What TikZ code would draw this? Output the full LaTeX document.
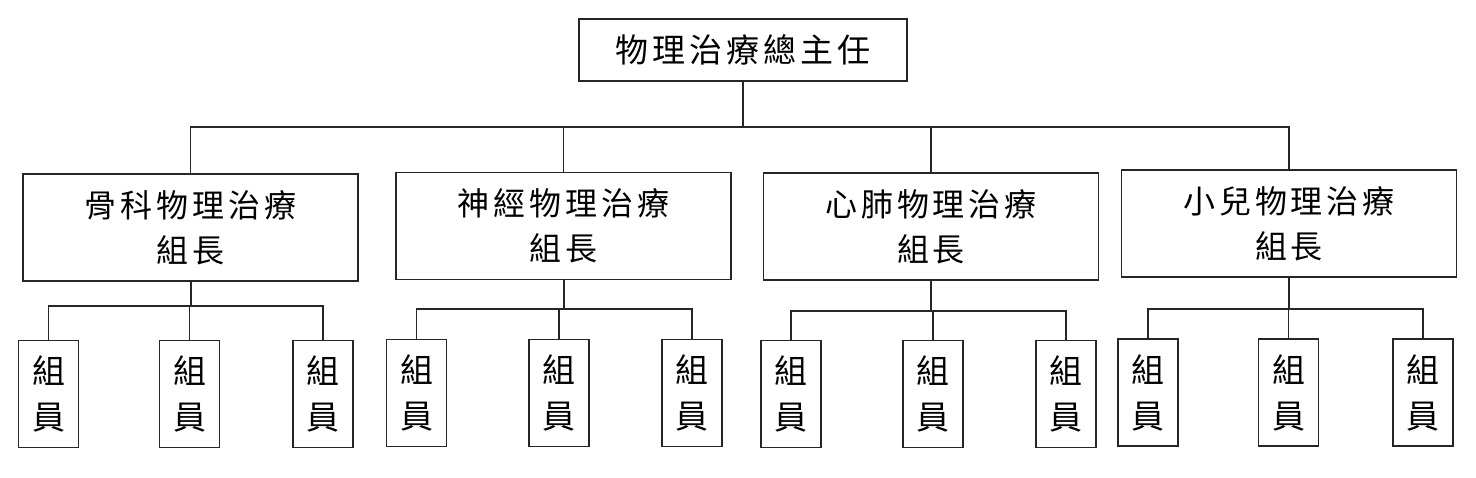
\documentclass[tikz,border=0pt]{standalone}
\usepackage{fontspec}
\usepackage{tikz}
\usetikzlibrary{positioning,calc}
\newfontfamily\cjk[LetterSpace=12]{Noto Sans CJK TC}
\tikzset{
  pline/.style={black!85, line width=1.5pt},
  pbox/.style={draw=black!85, fill=white, line width=1.5pt, inner sep=0pt,
               align=center, font=\cjk\fontsize{32}{45}\selectfont},
  pchief/.style={pbox, minimum width=328pt, minimum height=62pt,
                 font=\cjk\fontsize{33}{45}\selectfont},
  plead/.style={pbox, minimum width=335pt, minimum height=107pt},
  pmem/.style={pbox, minimum width=60pt, minimum height=107pt,
               font=\cjk\fontsize{33}{46}\selectfont},
}
\begin{document}
\begin{tikzpicture}[x=1pt,y=-1pt]
  \useasboundingbox (0,0) rectangle (1476,478);

  % 總主任
  \node[pchief] (chief) at (743,50) {物理治療總主任};
  \coordinate (bus) at (743,127);

  % 各組組長
  \foreach \n/\x/\y/\t in {1/190.5/227.5/骨科, 2/563.5/226/神經,
                           3/931/226.5/心肺, 4/1289/223.5/小兒}
    \node[plead] (g\n) at (\x,\y) {\t 物理治療\\組長};

  \draw[pline, line width=2pt] (chief.south) -- (bus);
  \draw[pline] (g1.north) |- (bus) -| (g4.north);
  \draw[pline] (g2.north) -- (g2.north |- bus);
  \draw[pline] (g3.north) -- (g3.north |- bus);

  % 組員
  \foreach \g/\xa/\xb/\xc/\y/\s in {1/48.5/189.5/323/394/306, 2/416.5/559/692/393/309,
                                    3/791/933/1066/394/311, 4/1148/1288.5/1423/392.5/309}{
    \node[pmem] (m\g a) at (\xa,\y) {組\\員};
    \node[pmem] (m\g b) at (\xb,\y) {組\\員};
    \node[pmem] (m\g c) at (\xc,\y) {組\\員};
    \coordinate (s\g) at (m\g b.north |- 0,\s);
    \draw[pline, line width=2pt] (g\g.south) -- (g\g.south |- s\g);
    \draw[pline] (m\g a.north) |- (s\g) -| (m\g c.north);
    \draw[pline] (m\g b.north) -- (s\g);
  }

\end{tikzpicture}
\end{document}
